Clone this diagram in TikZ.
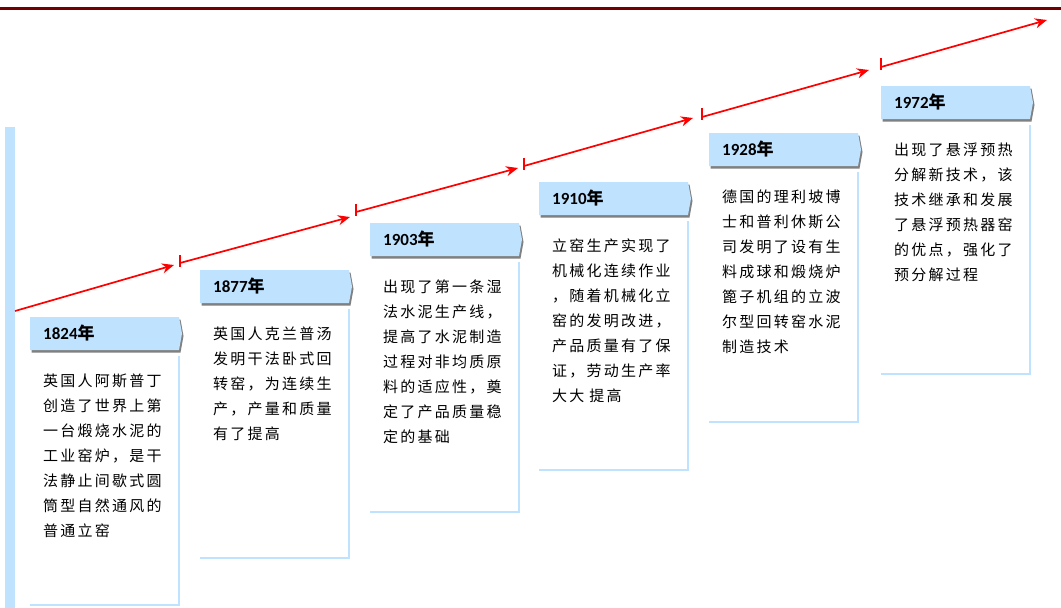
\documentclass[tikz,border=0pt]{standalone}
\usepackage{fontspec}
\setmainfont{Carlito}
\newfontfamily\cjk[LetterSpace=15]{Noto Sans CJK SC}
\newfontfamily\cjkplain{Noto Sans CJK SC}
\usetikzlibrary{arrows.meta}
\definecolor{lblue}{HTML}{BFE3FF}
\definecolor{darkred}{HTML}{730000}
\definecolor{shadowgray}{HTML}{808080}
\tikzset{
  hdrshape/.style={fill=lblue},
  hdrshadow/.style={fill=shadowgray},
  yearlabel/.style={anchor=base west, inner sep=0pt, font=\fontsize{17}{20}\selectfont\bfseries},
  bodytext/.style={anchor=base west, inner sep=0pt, text width=150pt, align=left,
                   font=\cjk\fontsize{15}{25}\selectfont, text=black},
  bodyframe/.style={draw=lblue, line width=2pt},
  timeline/.style={draw=red, line width=1.7pt, -{Stealth[length=12pt,width=10pt]}},
  tickmark/.style={draw=red, line width=2pt},
}
\newcommand\yearbox[6]{%
  \fill[hdrshadow] (#1+1.5,#2+2.5) -- ++(149,0) -- ++(3,16.5) -- ++(-3,16.5) -- ++(-149,0) -- cycle;
  \fill[hdrshape] (#1,#2) -- ++(149,0) -- ++(3,16.5) -- ++(-3,16.5) -- ++(-149,0) -- cycle;
  \draw[bodyframe] (#1+149,#2+39) -- (#1+149,#3) -- (#1,#3);
  \node[yearlabel] (#4y) at (#1+13,#2+22) {#5};
  \node[bodytext] (#4t) at (#1+13,#2+33+30+6) {#6};
}
\begin{document}
\begin{tikzpicture}[x=1pt,y=-1pt]
\useasboundingbox (0,0) rectangle (1061,608);
% top bar and left bar
\fill[darkred] (0,7) rectangle (1061,9.8);
\fill[lblue] (5,127) rectangle (15,608);

% timeline coordinates
\coordinate (a0) at (15,311);  \coordinate (b1) at (174,265);
\coordinate (k1t) at (180,255); \coordinate (k1b) at (180,267); \coordinate (a1) at (180,263); \coordinate (b2) at (350,217);
\coordinate (k2t) at (356,204); \coordinate (k2b) at (356,216); \coordinate (a2) at (356,212); \coordinate (b3) at (518,168);
\coordinate (k3t) at (524,158); \coordinate (k3b) at (524,170); \coordinate (a3) at (524,166); \coordinate (b4) at (693,118);
\coordinate (k4t) at (702,108); \coordinate (k4b) at (702,120); \coordinate (a4) at (702,117); \coordinate (b5) at (869,70);
\coordinate (k5t) at (881,58);  \coordinate (k5b) at (881,70);  \coordinate (a5) at (881,67);  \coordinate (b6) at (1047,20);

\draw[timeline] (a0) -- (b1);
\draw[tickmark] (k1t) -- (k1b); \draw[timeline] (a1) -- (b2);
\draw[tickmark] (k2t) -- (k2b); \draw[timeline] (a2) -- (b3);
\draw[tickmark] (k3t) -- (k3b); \draw[timeline] (a3) -- (b4);
\draw[tickmark] (k4t) -- (k4b); \draw[timeline] (a4) -- (b5);
\draw[tickmark] (k5t) -- (k5b); \draw[timeline] (a5) -- (b6);

\yearbox{30}{317}{605}{p1}{1824{\cjkplain\bfseries 年}}{英国人阿斯普丁\\创造了世界上第\\一台煅烧水泥的\\工业窑炉，是干\\法静止间歇式圆\\筒型自然通风的\\普通立窑}
\yearbox{200}{270}{558}{p2}{1877{\cjkplain 年}}{英国人克兰普汤\\发明干法卧式回\\转窑，为连续生\\产，产量和质量\\有了提高}
\yearbox{370}{223}{512}{p3}{1903{\cjkplain\bfseries 年}}{出现了第一条湿\\法水泥生产线，\\提高了水泥制造\\过程对非均质原\\料的适应性，奠\\定了产品质量稳\\定的基础}
\yearbox{539}{182}{470}{p4}{1910{\cjkplain\bfseries 年}}{立窑生产实现了\\机械化连续作业\\，随着机械化立\\窑的发明改进，\\产品质量有了保\\证，劳动生产率\\大大 提高}
\yearbox{709}{133}{422}{p5}{1928{\cjkplain\bfseries 年}}{德国的理利坡博\\士和普利休斯公\\司发明了设有生\\料成球和煅烧炉\\篦子机组的立波\\尔型回转窑水泥\\制造技术}
\yearbox{881}{86}{374}{p6}{1972{\cjkplain\bfseries 年}}{出现了悬浮预热\\分解新技术，该\\技术继承和发展\\了悬浮预热器窑\\的优点，强化了\\预分解过程}
\end{tikzpicture}
\end{document}
